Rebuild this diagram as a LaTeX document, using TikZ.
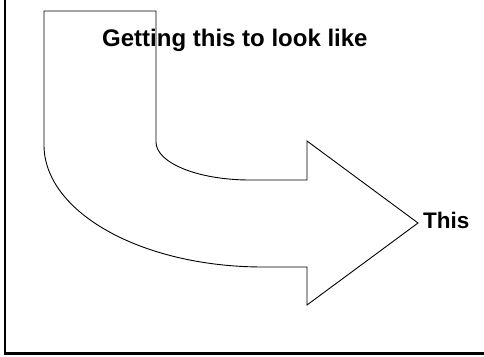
\documentclass[tikz,border=0pt]{standalone}
\usepackage{fontspec}
\setmainfont{Liberation Sans}
\begin{document}
\begin{tikzpicture}[x=1pt,y=1pt,
  frameline/.style={line width=2.6pt},
  arrowshape/.style={draw=black,line width=0.9pt,line join=miter},
  lbl/.style={font=\bfseries,inner sep=0pt,anchor=base west}]
\useasboundingbox (0,0) rectangle (484,356);
% frame (left and bottom only)
\draw[frameline] (4.8,356) -- (4.8,2.6) -- (484,2.6);
% bent arrow
\draw[arrowshape] (44,345) -- (156,345) -- (156,214)
  arc[start angle=180,end angle=270,x radius=94,y radius=38]
  -- (307,176) -- (307,215) -- (418,133) -- (307,51) -- (307,89) -- (263,89)
  arc[start angle=270,end angle=180,x radius=219,y radius=122]
  -- cycle;
\node[lbl,font=\fontsize{24}{26}\selectfont\bfseries] (top) at (102,309) {Getting this to look like};
\node[lbl,font=\fontsize{22.5}{26}\selectfont\bfseries] (this) at (423,127) {This};
\end{tikzpicture}
\end{document}
